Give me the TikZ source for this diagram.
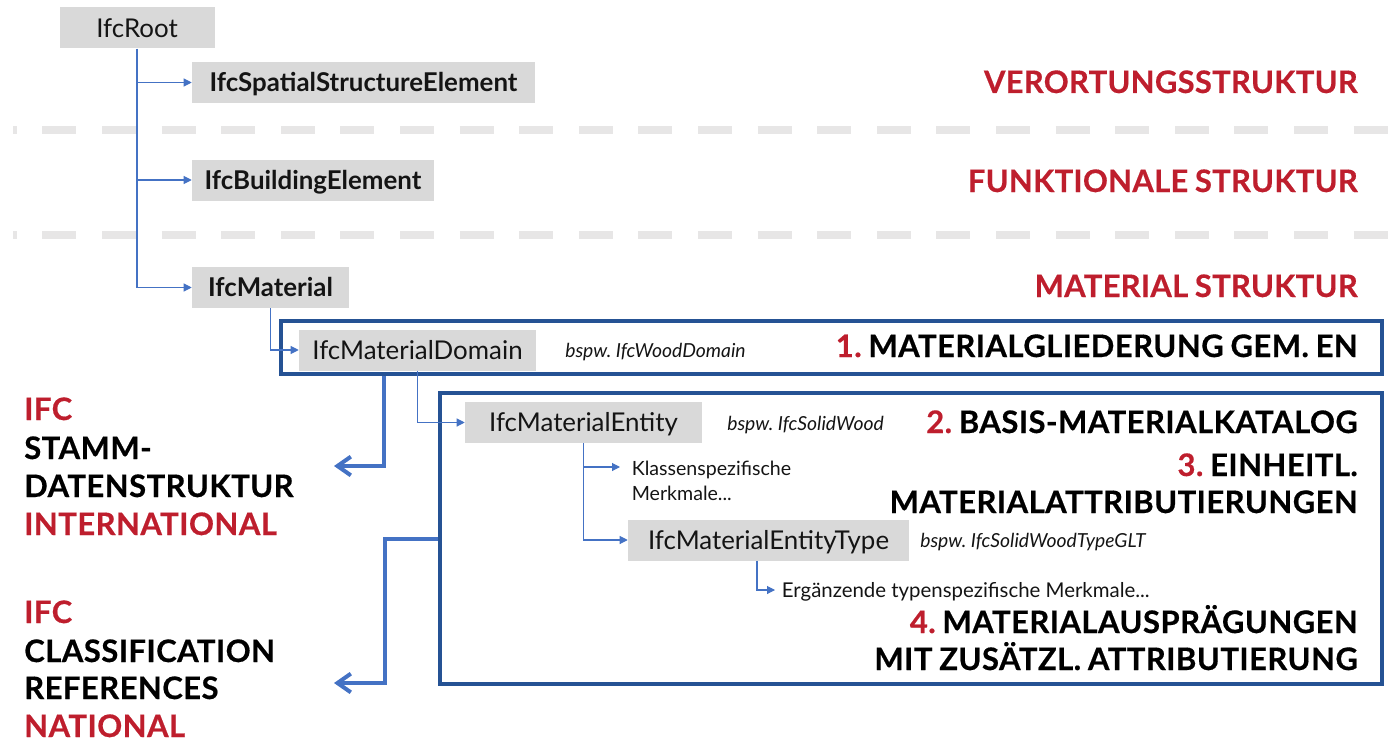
\documentclass[tikz,border=0pt]{standalone}
\usepackage{fontspec}
\setmainfont{Lato}
\newfontfamily\headfont{Lato}[FakeBold=0.5, LetterSpace=1.5, WordSpace=0.85]
\newfontfamily\redheadfont{Lato}[FakeBold=0.4, LetterSpace=0.8, WordSpace=0.85]
\frenchspacing
\usetikzlibrary{arrows.meta}
\definecolor{ifcred}{RGB}{190,30,45}
\definecolor{boxgray}{RGB}{217,217,217}
\definecolor{framblue}{RGB}{37,82,148}
\definecolor{arrowblue}{RGB}{68,114,196}
\definecolor{dashgray}{RGB}{231,230,230}
\definecolor{textdark}{RGB}{20,20,20}
\begin{document}
\begin{tikzpicture}[x=0.75pt,y=-0.75pt,
  cls/.style={fill=boxgray, inner sep=0pt, minimum height=41*0.75pt,
    text height=13.9pt, text depth=0pt, text=textdark,
    font=\fontsize{19.4pt}{23pt}\selectfont},
  clsb/.style={cls, font=\fontsize{19.4pt}{23pt}\selectfont\bfseries},
  w/.style={minimum width=#1*0.75pt},
  conn/.style={draw=arrowblue, line width=0.8pt, -{Triangle[length=6pt,width=6pt]}},
  bigarrow/.style={draw=arrowblue, line width=3pt, -{Straight Barb[length=10pt,width=14pt]}},
  frame/.style={draw=framblue, line width=2.4pt, inner sep=0pt},
  sep/.style={draw=dashgray, line width=6pt, dash pattern=on 25.5pt off 19.2pt, dash phase=22.65pt},
  head/.style={anchor=base east, inner sep=0pt, text=black,
    font=\fontsize{23.25pt}{28pt}\headfont\bfseries},
  redhead/.style={anchor=base east, inner sep=0pt, text=ifcred,
    font=\fontsize{23.25pt}{28pt}\redheadfont\bfseries},
  side/.style={anchor=base west, inner sep=0pt, text=black,
    font=\fontsize{23.25pt}{28pt}\headfont\bfseries},
  note/.style={inner sep=0pt, text=textdark, font=\fontsize{14.7pt}{18.75pt}\selectfont},
  eg/.style={anchor=base west, inner sep=0pt, text=textdark,
    font=\fontsize{14.5pt}{17pt}\selectfont\itshape}
]
\useasboundingbox (0,0) rectangle (1389,742);

% layer separators
\draw[sep] (13,130) -- (1389,130);
\draw[sep] (13,235) -- (1389,235);

% frames around the material levels
\node[frame, minimum width=1101*0.75pt, minimum height=53*0.75pt] (box1) at (831.5,347.5) {};
\node[frame, minimum width=942*0.75pt, minimum height=291*0.75pt] (box2) at (911,538.5) {};

% class boxes
\node[cls, w=155] (root) at (137,28) {IfcRoot};
\node[clsb, w=343] (sse) at (363.5,82.5) {IfcSpatialStructureElement};
\node[clsb, w=242] (be) at (313,180) {IfcBuildingElement};
\node[clsb, w=157] (mat) at (270.5,287.5) {IfcMaterial};
\node[cls, w=237] (dom) at (417.5,350) {IfcMaterialDomain};
\node[cls, w=237] (ent) at (583.5,422.5) {IfcMaterialEntity};
\node[cls, w=281] (typ) at (768.5,540) {IfcMaterialEntityType};

% examples
\node[eg] (exdom) at (565,357) {bspw. IfcWoodDomain};
\node[eg] (exent) at (727,430) {bspw. IfcSolidWood};
\node[eg] (extyp) at (920,547) {bspw. IfcSolidWoodTypeGLT};

% attribute notes
\node[note, anchor=north west, align=left] (klass) at (631.5,460.5) {Klassenspezifische\\Merkmale...};
\coordinate (k1) at (620,467);
\node[note, anchor=west, inner xsep=5pt, text height=10.8pt, text depth=0pt,
  font=\fontsize{15.3pt}{18.75pt}\selectfont] (erg) at (775,590) {Ergänzende typenspezifische Merkmale...};

% inheritance connectors
\draw[conn] (root.south) |- (sse.west);
\draw[conn] (root.south) |- (be.west);
\draw[conn] (root.south) |- (mat.west);
\draw[conn] (mat.south) |- (dom.west);
\draw[conn] (dom.south) |- (ent.west);
\draw[conn] (ent.south) |- (k1);
\draw[conn] (ent.south) |- (typ.west);
\draw[conn] ([shift={(-11.5,0)}]typ.south) |- (erg.west);

% right-hand headings
\node[redhead] (h1) at (1358,93) {VERORTUNGSSTRUKTUR};
\node[redhead] (h2) at (1358,192) {FUNKTIONALE STRUKTUR};
\node[redhead] (h3) at (1358,297) {MATERIAL STRUKTUR};
\node[head] (n1) at (1358,357) {\textcolor{ifcred}{1.} MATERIALGLIEDERUNG GEM. EN};
\node[head] (n2) at (1358,433) {\textcolor{ifcred}{2.} BASIS-MATERIALKATALOG};
\node[head] (n3a) at (1358,476) {\textcolor{ifcred}{3.} EINHEITL.};
\node[head] (n3b) at (1358,513) {MATERIALATTRIBUTIERUNGEN};
\node[head] (n4a) at (1358,633) {\textcolor{ifcred}{4.} MATERIALAUSPRÄGUNGEN};
\node[head] (n4b) at (1358,670) {MIT ZUSÄTZL. ATTRIBUTIERUNG};

% left-hand labels
\node[side, text=ifcred] (l1) at (24,420) {IFC};
\node[side] (l2) at (24,459) {STAMM-};
\node[side] (l3) at (24,497) {DATENSTRUKTUR};
\node[side, text=ifcred] (l4) at (24,535) {INTERNATIONAL};
\node[side, text=ifcred] (l5) at (24,623) {IFC};
\node[side] (l6) at (24,662) {CLASSIFICATION};
\node[side] (l7) at (24,699) {REFERENCES};
\node[side, text=ifcred] (l8) at (24,737) {NATIONAL};

% mapping arrows
\coordinate (a1) at (334,466);
\coordinate (a2) at (334,683);
\draw[bigarrow] ([shift={(105,0)}]box1.south west) |- (a1);
\draw[bigarrow] (box2.west) -- ++(-53,0) |- (a2);
\end{tikzpicture}
\end{document}
